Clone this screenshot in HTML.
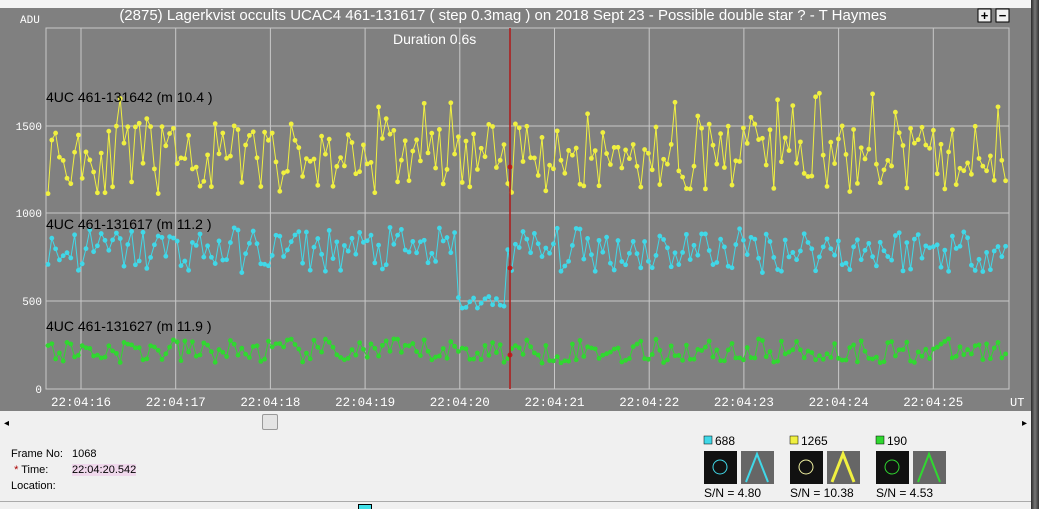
<!DOCTYPE html><html><head><meta charset="utf-8"><style>
html,body{margin:0;width:1039px;height:509px;overflow:hidden}
body{background:#f0f0f0;font-family:"Liberation Sans",sans-serif;position:relative}
.abs{position:absolute}
</style></head><body>
<div class="abs" style="left:0;top:0;width:1039px;height:8px;background:#f4f4f4"></div>
<div class="abs" style="left:0;top:8px;width:1031px;height:403px;background:#808080"></div>
<div class="abs" style="left:1031px;top:0;width:8px;height:509px;background:linear-gradient(90deg,#2a2a2a,#777,#333)"></div>
<svg class="abs" style="left:0;top:0" width="1031" height="412" id="s">
<g stroke="#c8c8c8" stroke-width="1" fill="none" id="grid"></g>
<text x="20" y="23" font-family="Liberation Mono" font-size="11" fill="#fff">ADU</text>
<text x="503" y="20" font-size="15" fill="#fff" text-anchor="middle">(2875) Lagerkvist occults UCAC4 461-131617 ( step 0.3mag ) on 2018 Sept 23 - Possible double star ? - T Haymes</text>
<text x="393" y="44" font-size="14" fill="#fff">Duration 0.6s</text>
<rect x="978" y="9" width="13" height="13" fill="#f0f0f0" stroke="#000"/><text x="984.5" y="20" font-size="13" text-anchor="middle" font-weight="bold">+</text>
<rect x="996" y="9" width="13" height="13" fill="#f0f0f0" stroke="#000"/><text x="1002.5" y="20" font-size="13" text-anchor="middle" font-weight="bold">−</text>
<g id="data"></g>
<line x1="510" y1="28" x2="510" y2="389" stroke="#b01818" stroke-width="1.5"/>
<text x="46" y="102" font-size="14" fill="#000">4UC 461-131642 (m 10.4 )</text>
<text x="46" y="229" font-size="14" fill="#000">4UC 461-131617 (m 11.2 )</text>
<text x="46" y="331" font-size="14" fill="#000">4UC 461-131627 (m 11.9 )</text>
<g font-family="Liberation Mono" fill="#fff" id="lab"></g>
</svg>
<div class="abs" style="left:4px;top:418px;font-size:10px">◂</div>
<div class="abs" style="left:1022px;top:418px;font-size:10px">▸</div>
<div class="abs" style="left:262px;top:414px;width:14px;height:14px;background:#e4e4e4;border:1px solid #999;border-radius:2px"></div>
<div class="abs" style="left:11px;top:446px;font-size:11px;line-height:16px">Frame No:<br>&nbsp;<span style="color:#a00">*</span> Time:<br>Location:</div>
<div class="abs" style="left:72px;top:446px;font-size:11px;line-height:16px">1068<br><span style="background:#f0d8ec">22:04:20.542</span></div>
<div class="abs" style="left:0;top:501px;width:1031px;border-top:1px solid #aaa"></div>
<div class="abs" style="left:358px;top:504px;width:12px;height:10px;background:#40e0e8;border:1px solid #000"></div>
<svg class="abs" style="left:700px;top:432px" width="260" height="70" font-size="12" font-family="Liberation Sans">
<rect x="4" y="4" width="8" height="8" fill="#40d8e8" stroke="#000" stroke-width=".5"/><text x="15" y="13">688</text>
<rect x="90" y="4" width="8" height="8" fill="#f0f040" stroke="#000" stroke-width=".5"/><text x="101" y="13">1265</text>
<rect x="176" y="4" width="8" height="8" fill="#30d830" stroke="#000" stroke-width=".5"/><text x="187" y="13">190</text>
<rect x="4" y="19" width="33" height="33" fill="#111"/><circle cx="20" cy="35" r="7" fill="none" stroke="#40d8e8"/>
<rect x="41" y="19" width="33" height="33" fill="#666"/><path d="M46 50 L57 22 L68 50" stroke="#40d8e8" stroke-width="2" fill="none"/>
<rect x="90" y="19" width="33" height="33" fill="#111"/><circle cx="106" cy="35" r="7" fill="none" stroke="#f0f0a0"/>
<rect x="127" y="19" width="33" height="33" fill="#666"/><path d="M132 50 L143 22 L154 50" stroke="#f0f040" stroke-width="3" fill="none"/>
<rect x="176" y="19" width="33" height="33" fill="#111"/><circle cx="192" cy="35" r="7" fill="none" stroke="#30d830"/>
<rect x="213" y="19" width="33" height="33" fill="#666"/><path d="M218 50 L229 22 L240 50" stroke="#30d830" stroke-width="2" fill="none"/>
<text x="4" y="65">S/N =  4.80</text><text x="90" y="65">S/N =  10.38</text><text x="176" y="65">S/N =  4.53</text>
</svg>
<script>
var NS="http://www.w3.org/2000/svg";
function el(p,t,a){var e=document.createElementNS(NS,t);for(var k in a)e.setAttribute(k,a[k]);p.appendChild(e);return e;}
var g=document.getElementById('grid'),lab=document.getElementById('lab'),d=document.getElementById('data');
el(g,'rect',{x:46,y:28,width:963,height:361});
var yv=[[0,389],[500,301],[1000,213],[1500,126]];
yv.forEach(function(v){el(g,'line',{x1:46,x2:1009,y1:v[1],y2:v[1]});var t=el(lab,'text',{x:42,y:v[1]+4,'text-anchor':'end','font-size':11});t.textContent=v[0];});
for(var i=0;i<10;i++){var x=81+i*94.7;el(g,'line',{x1:x,x2:x,y1:28,y2:389});var t=el(lab,'text',{x:x,y:406,'text-anchor':'middle','font-size':12.5});t.textContent='22:04:'+(16+i);}
var t=el(lab,'text',{x:1010,y:406,'font-size':12});t.textContent='UT';
var seed=11;function r(){seed=(seed*16807)%2147483647;return seed/2147483647;}
function Y(v){return 389-v*0.176;}
function series(col,f){var pts=[],c=[];for(var x=48;x<=1008;x+=3.8){var v=f(x);pts.push(x.toFixed(1)+','+Y(v).toFixed(1));c.push([x,Y(v)]);}
el(d,'polyline',{points:pts.join(' '),fill:'none',stroke:col,'stroke-width':1});
c.forEach(function(p){el(d,'circle',{cx:p[0],cy:p[1],r:2.4,fill:col});});}
series('#f0f040',function(x){return 1310+(r()-0.5)*400+(r()<0.1?180:0);});
series('#40d8e8',function(x){var b=(x>455&&x<505)?490:790;return b+(r()-0.5)*(b<600?90:260);});
series('#30d830',function(x){return 215+(r()-0.5)*140;});
el(d,'circle',{cx:510,cy:167,r:2.5,fill:'#c02020'});el(d,'circle',{cx:510,cy:268,r:2.5,fill:'#c02020'});el(d,'circle',{cx:510,cy:355,r:2.5,fill:'#c02020'});
</script>
</body></html>
